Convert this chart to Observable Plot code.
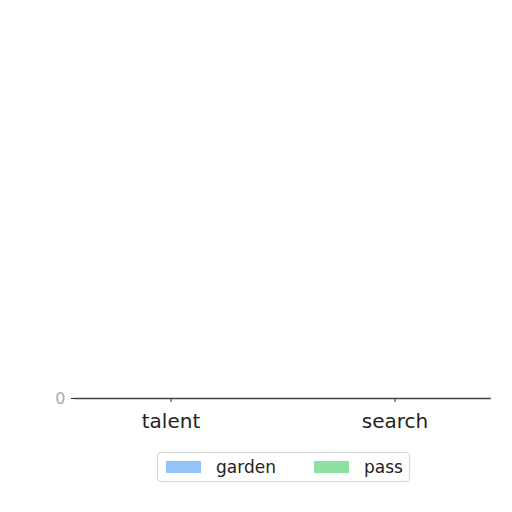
<!DOCTYPE html>
<html>
<head>
<meta charset="utf-8">
<script src="https://cdn.jsdelivr.net/npm/d3@7"></script>
<script src="https://cdn.jsdelivr.net/npm/@observablehq/plot@0.6"></script>
<style>
  html, body { margin: 0; padding: 0; background: #fff; }
  body { width: 512px; height: 512px; overflow: hidden; font-family: "DejaVu Sans", sans-serif; }
  #legend {
    box-sizing: border-box;
    margin: 12px 0 0 157px;
    width: 253px; height: 30px;
    border: 1px solid #d6d6d6; border-radius: 4px;
    display: flex; align-items: center;
    font-size: 17px; color: #222;
  }
  .sw { display: inline-block; width: 35px; height: 12px; margin: 0 15px 0 8px; }
  .item { display: flex; align-items: center; }
  svg g[aria-label="y-axis tick label"] text, svg g[aria-label="y-axis"] text { fill: #aaa; font-size: 16px; }
</style>
</head>
<body>
<div id="chart"></div>
<div id="legend"></div>
<script>
const categories = ["talent", "search"];
const series = ["garden", "pass"];
const gardenValues = [0, 0];
const passValues = [0, 0];
const colors = ["#93c4f7", "#8ee0a1"];
const yTicks = [0];

const data = [];
categories.forEach((c, i) => {
  data.push({category: c, series: "garden", value: gardenValues[i]});
  data.push({category: c, series: "pass", value: passValues[i]});
});

const W = 512;
const plot = Plot.plot({
  width: W,
  height: 440,
  marginLeft: 75,
  marginRight: 21,
  marginTop: 20,
  marginBottom: 42,
  style: {fontFamily: "DejaVu Sans", fontSize: "20px", color: "#222", background: "transparent"},
  x: {domain: categories, paddingInner: 0.2, paddingOuter: 0.026, label: null, tickSize: 4, tickPadding: 11},
  y: {domain: [0, 1], ticks: yTicks, tickFormat: d => String(d), label: null, tickSize: 4, tickPadding: 6},
  color: {domain: series, range: colors},
  marks: [
    Plot.barY(data.filter(d => d.series === "garden"), {x: "category", y: "value", fill: "series", insetRight: 90}),
    Plot.barY(data.filter(d => d.series === "pass"), {x: "category", y: "value", fill: "series", insetLeft: 90}),
    Plot.ruleY([0], {stroke: "#444", strokeWidth: 1.4})
  ]
});
document.getElementById("chart").appendChild(plot);

const legend = d3.select("#legend");
series.forEach((s, i) => {
  const it = legend.append("div").attr("class", "item").style("margin-right", i === 0 ? "30px" : "0");
  it.append("span").attr("class", "sw").style("background", colors[i]);
  it.append("span").text(s);
});
</script>
</body>
</html>
